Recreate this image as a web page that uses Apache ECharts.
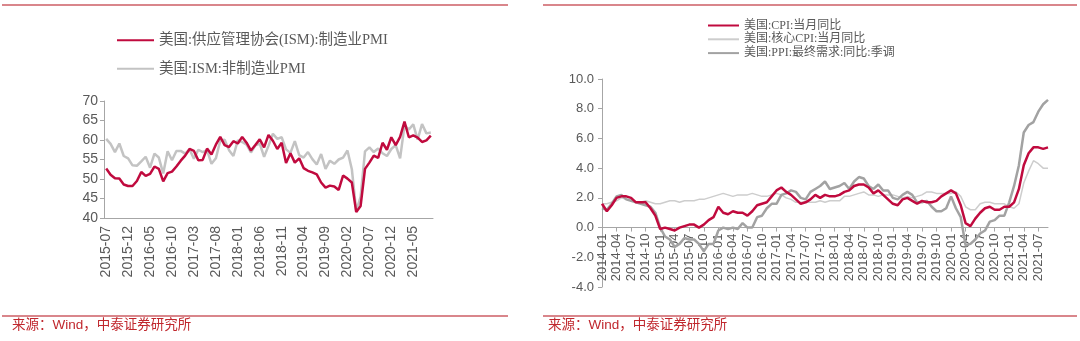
<!DOCTYPE html>
<html>
<head>
<meta charset="utf-8">
<script src="https://cdn.jsdelivr.net/npm/echarts@6/dist/echarts.min.js"></script>
<style>
  html, body { margin: 0; padding: 0; background: #ffffff; }
  #chart { width: 1080px; height: 341px; }
</style>
</head>
<body>
<div id="chart"></div>
<script>
// Monthly category labels "YYYY-MM" from a start month, inclusive count
function monthLabels(year, month, count) {
  const out = [];
  for (let i = 0; i < count; i++) {
    const m = month - 1 + i;
    const y = year + Math.floor(m / 12);
    const mm = (m % 12) + 1;
    out.push(y + '-' + (mm < 10 ? '0' + mm : mm));
  }
  return out;
}

// ---- Left panel: ISM PMI, 2015-07 .. 2021-09 ----
const pmiMonths = monthLabels(2015, 7, 75);
const ismManufacturing = [
  52.7, 51.1, 50.2, 50.1, 48.6, 48.2,
  48.2, 49.5, 51.8, 50.8, 51.3, 53.2, 52.6, 49.4, 51.5, 51.9, 53.2, 54.7,
  56.0, 57.7, 57.2, 54.8, 54.9, 57.8, 56.3, 58.8, 60.8, 58.7, 58.2, 59.7,
  59.1, 60.8, 59.3, 57.3, 58.7, 60.2, 58.1, 61.3, 59.8, 57.7, 59.3, 54.1,
  56.6, 54.2, 55.3, 52.8, 52.1, 51.7, 51.2, 49.1, 47.8, 48.3, 48.1, 47.2,
  50.9, 50.1, 49.1, 41.5, 43.1, 52.6, 54.2, 56.0, 55.4, 59.3, 57.5, 60.7,
  58.7, 60.8, 64.7, 60.7, 61.2, 60.6, 59.5, 59.9, 61.1
];
const ismNonManufacturing = [
  60.3, 59.0, 56.9, 59.1, 55.9, 55.3,
  53.5, 53.4, 54.5, 55.7, 52.9, 56.5, 55.5, 51.4, 57.1, 54.8, 57.2, 57.2,
  56.5, 57.6, 55.2, 57.5, 56.9, 57.4, 53.9, 55.3, 59.8, 60.1, 57.4, 55.9,
  59.9, 59.5, 58.8, 56.8, 58.6, 59.1, 55.7, 58.5, 61.6, 60.3, 60.7, 57.6,
  56.7, 59.7, 56.1, 55.5, 56.9, 55.1, 53.7, 56.4, 52.6, 54.7, 53.9, 55.0,
  55.5, 57.3, 52.5, 41.8, 45.4, 57.1, 58.1, 56.9, 57.8, 56.6, 55.9, 57.7,
  58.7, 55.3, 63.7, 62.7, 64.0, 60.1, 64.1, 61.7, 61.9
];

// ---- Right panel: inflation, 2014-01 .. 2021-09 ----
const cpiMonths = monthLabels(2014, 1, 93);
const cpiYoY = [
  1.6, 1.1, 1.5, 2.0, 2.1, 2.1, 2.0, 1.7, 1.7, 1.7, 1.3, 0.8,
  -0.1, 0.0, -0.1, -0.2, 0.0, 0.1, 0.2, 0.2, 0.0, 0.2, 0.5, 0.7,
  1.4, 1.0, 0.9, 1.1, 1.0, 1.0, 0.8, 1.1, 1.5, 1.6, 1.7, 2.1,
  2.5, 2.7, 2.4, 2.2, 1.9, 1.6, 1.7, 1.9, 2.2, 2.0, 2.2, 2.1,
  2.1, 2.2, 2.4, 2.5, 2.8, 2.9, 2.9, 2.7, 2.3, 2.5, 2.2, 1.9,
  1.6, 1.5, 1.9, 2.0, 1.8, 1.6, 1.8, 1.7, 1.7, 1.8, 2.1, 2.3,
  2.5, 2.3, 1.5, 0.3, 0.1, 0.6, 1.0, 1.3, 1.4, 1.2, 1.2, 1.4,
  1.4, 1.7, 2.6, 4.2, 5.0, 5.4, 5.4, 5.3, 5.4
];
const coreCpiYoY = [
  1.6, 1.6, 1.7, 1.8, 2.0, 1.9, 1.9, 1.7, 1.7, 1.8, 1.7, 1.6,
  1.6, 1.7, 1.8, 1.8, 1.7, 1.8, 1.8, 1.8, 1.9, 1.9, 2.0, 2.1,
  2.2, 2.3, 2.2, 2.1, 2.2, 2.2, 2.2, 2.3, 2.2, 2.1, 2.1, 2.2,
  2.3, 2.2, 2.0, 1.9, 1.7, 1.7, 1.7, 1.7, 1.7, 1.8, 1.7, 1.8,
  1.8, 1.8, 2.1, 2.1, 2.2, 2.3, 2.4, 2.2, 2.2, 2.1, 2.2, 2.2,
  2.2, 2.1, 2.0, 2.1, 2.0, 2.1, 2.2, 2.4, 2.4, 2.3, 2.3, 2.3,
  2.3, 2.4, 2.1, 1.4, 1.2, 1.2, 1.6, 1.7, 1.7, 1.6, 1.6, 1.6,
  1.4, 1.3, 1.6, 3.0, 3.8, 4.5, 4.3, 4.0, 4.0
];
const ppiFinalDemandYoY = [
  1.3, 1.2, 1.6, 2.1, 2.2, 1.9, 1.8, 1.7, 1.6, 1.5, 1.4, 1.0,
  0.0, -0.6, -0.8, -1.3, -1.1, -0.7, -0.8, -0.8, -1.1, -1.6, -1.1, -1.1,
  -0.2, 0.0, -0.1, 0.0, -0.1, 0.3, 0.0, 0.0, 0.7, 0.8, 1.3, 1.6,
  1.6, 2.2, 2.3, 2.5, 2.4, 2.0, 1.9, 2.4, 2.6, 2.8, 3.1, 2.6,
  2.7, 2.8, 3.0, 2.6, 3.1, 3.4, 3.3, 2.8, 2.6, 2.9, 2.5, 2.5,
  2.0, 1.9, 2.2, 2.4, 2.2, 1.7, 1.7, 1.8, 1.4, 1.1, 1.1, 1.3,
  2.1, 1.3, 0.7, -1.2, -1.1, -0.8, -0.4, -0.2, 0.4, 0.5, 0.8, 0.8,
  1.7, 2.8, 4.2, 6.4, 6.9, 7.1, 7.8, 8.3, 8.6
];

const leftTicks = [40, 70, 5];      // min, max, interval
const rightTicks = [-4, 10, 2];

const RED = '#c00a3e';
const AXIS = '#a6a6a6';
const LABEL = '#595959';
const SERIF = "'Liberation Serif', 'Noto Sans CJK SC', serif";
const SANS = "Arial, 'Liberation Sans', 'Noto Sans CJK SC', sans-serif";
const SOURCE = '来源：Wind，中泰证券研究所';

const H = 341;
const rightGrid = { left: 602, right: 32, top: 79, bottom: 54 };
// shift the right category axis up so it sits on the zero line
const rightGridHeight = H - rightGrid.top - rightGrid.bottom;
const zeroOffset = -rightGridHeight * (0 - rightTicks[0]) / (rightTicks[1] - rightTicks[0]);

const chart = echarts.init(document.getElementById('chart'), null, { renderer: 'canvas' });

chart.setOption({
  animation: false,
  backgroundColor: '#ffffff',
  legend: [
    {
      orient: 'vertical', left: 116, top: 33, padding: 0,
      itemWidth: 37, itemHeight: 14, itemGap: 14,
      itemStyle: { opacity: 0 },
      textStyle: { fontFamily: SERIF, fontSize: 14.5, color: LABEL },
      data: ['美国:供应管理协会(ISM):制造业PMI', '美国:ISM:非制造业PMI']
    },
    {
      orient: 'vertical', left: 707, top: 19, padding: 0,
      itemWidth: 31, itemHeight: 10, itemGap: 0.8,
      itemStyle: { opacity: 0 },
      textStyle: { fontFamily: SERIF, fontSize: 12, lineHeight: 13, color: LABEL },
      data: ['美国:CPI:当月同比', '美国:核心CPI:当月同比', '美国:PPI:最终需求:同比:季调']
    }
  ],
  grid: [
    { left: 104, right: 647, top: 101, bottom: 123 },
    rightGrid
  ],
  xAxis: [
    {
      type: 'category', gridIndex: 0, data: pmiMonths, boundaryGap: true,
      axisLine: { lineStyle: { color: AXIS, width: 1 } },
      axisTick: { interval: 4, alignWithLabel: true, length: 4, lineStyle: { color: AXIS } },
      axisLabel: { interval: 4, rotate: 90, color: LABEL, fontFamily: SANS, fontSize: 14, margin: 8, hideOverlap: false }
    },
    {
      type: 'category', gridIndex: 1, data: cpiMonths, boundaryGap: false,
      position: 'bottom', offset: zeroOffset,
      axisLine: { onZero: false, lineStyle: { color: AXIS, width: 1 } },
      axisTick: { interval: 2, length: 4, lineStyle: { color: AXIS } },
      axisLabel: { interval: 2, rotate: 90, color: LABEL, fontFamily: SANS, fontSize: 13, margin: 6, hideOverlap: false }
    }
  ],
  yAxis: [
    {
      type: 'value', gridIndex: 0,
      min: leftTicks[0], max: leftTicks[1], interval: leftTicks[2],
      splitLine: { show: false },
      axisLine: { show: true, lineStyle: { color: AXIS } },
      axisTick: { show: true, length: 4, lineStyle: { color: AXIS } },
      axisLabel: { color: LABEL, fontFamily: SANS, fontSize: 14, margin: 6 }
    },
    {
      type: 'value', gridIndex: 1,
      min: rightTicks[0], max: rightTicks[1], interval: rightTicks[2],
      splitLine: { show: false },
      axisLine: { show: true, lineStyle: { color: AXIS } },
      axisTick: { show: true, length: 4, lineStyle: { color: AXIS } },
      axisLabel: { color: LABEL, fontFamily: SANS, fontSize: 13, margin: 8,
        formatter: v => v.toFixed(1) }
    }
  ],
  series: [
    {
      name: '美国:ISM:非制造业PMI', type: 'line', xAxisIndex: 0, yAxisIndex: 0,
      data: ismNonManufacturing, symbol: 'none', z: 2,
      lineStyle: { color: '#c3c3c3', width: 2.5 }, itemStyle: { color: '#c3c3c3' }
    },
    {
      name: '美国:供应管理协会(ISM):制造业PMI', type: 'line', xAxisIndex: 0, yAxisIndex: 0,
      data: ismManufacturing, symbol: 'none', z: 3,
      lineStyle: { color: RED, width: 2.5 }, itemStyle: { color: RED }
    },
    {
      name: '美国:核心CPI:当月同比', type: 'line', xAxisIndex: 1, yAxisIndex: 1,
      data: coreCpiYoY, symbol: 'none', z: 2,
      lineStyle: { color: '#cdcdcd', width: 1.5 }, itemStyle: { color: '#cdcdcd' }
    },
    {
      name: '美国:PPI:最终需求:同比:季调', type: 'line', xAxisIndex: 1, yAxisIndex: 1,
      data: ppiFinalDemandYoY, symbol: 'none', z: 3,
      lineStyle: { color: '#a2a2a2', width: 2.5 }, itemStyle: { color: '#a2a2a2' }
    },
    {
      name: '美国:CPI:当月同比', type: 'line', xAxisIndex: 1, yAxisIndex: 1,
      data: cpiYoY, symbol: 'none', z: 4,
      lineStyle: { color: RED, width: 2.5 }, itemStyle: { color: RED }
    }
  ],
  graphic: [
    // panel frame rules
    { type: 'line', shape: { x1: 2, y1: 5, x2: 508, y2: 5 }, style: { stroke: '#d9868b', lineWidth: 2 } },
    { type: 'line', shape: { x1: 543, y1: 5, x2: 1077, y2: 5 }, style: { stroke: '#d9868b', lineWidth: 2 } },
    { type: 'line', shape: { x1: 2, y1: 316, x2: 508, y2: 316 }, style: { stroke: '#d9868b', lineWidth: 2 } },
    { type: 'line', shape: { x1: 543, y1: 316, x2: 1077, y2: 316 }, style: { stroke: '#d9868b', lineWidth: 2 } },
    // source notes
    { type: 'text', left: 12, top: 319,
      style: { text: SOURCE, fill: '#c0272d', font: "13.5px Arial, 'Noto Sans CJK SC', sans-serif" } },
    { type: 'text', left: 548, top: 319,
      style: { text: SOURCE, fill: '#c0272d', font: "13.5px Arial, 'Noto Sans CJK SC', sans-serif" } }
  ]
});
</script>
</body>
</html>
